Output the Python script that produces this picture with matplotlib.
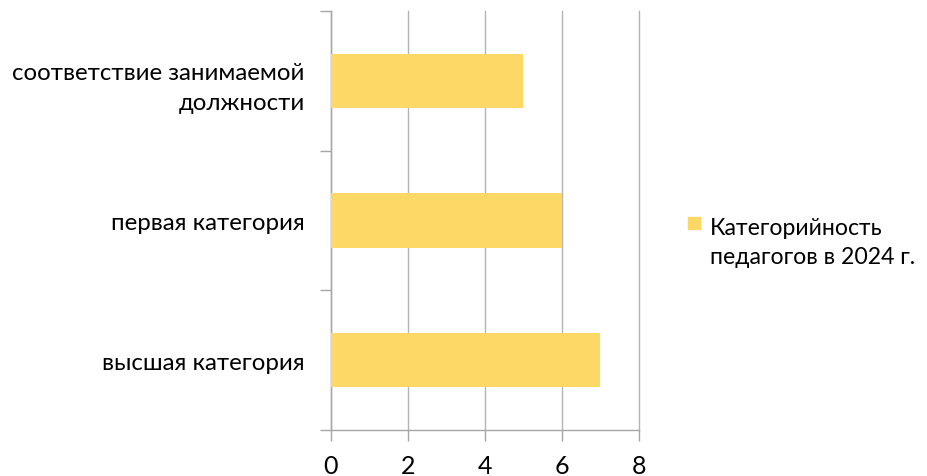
import matplotlib.pyplot as plt
from matplotlib.patches import Rectangle

plt.rcParams['font.family'] = ['Lato', 'DejaVu Sans']

categories = ["высшая категория", "первая категория", "соответствие занимаемой\nдолжности"]
values = [7, 6, 5]
series_name = "Категорийность\nпедагогов в 2024 г."
bar_color = "#FDD866"

W, H = 928, 477
fig = plt.figure(figsize=(W / 100, H / 100), dpi=100)
ax = fig.add_axes([331 / W, 1 - 431 / H, (639 - 331) / W, (431 - 12) / H])

pos = range(len(categories))
ax.barh(pos, values, height=0.39, color=bar_color, zorder=3)

ax.set_xlim(0, 8)
ax.set_ylim(-0.5, 2.5)
ax.set_xticks([0, 2, 4, 6, 8])
ax.set_yticks([-0.5, 0.5, 1.5, 2.5])
ax.set_yticklabels([])
ax.set_yticks(list(pos), minor=True)
ax.set_yticklabels(categories, minor=True, fontsize=17.3, ha='right',
                   multialignment='right', linespacing=1.55)
ax.tick_params(axis='y', which='minor', length=0, pad=19)
ax.tick_params(axis='y', which='major', length=8, color='#a6a6a6', width=1)
ax.tick_params(axis='x', length=8, color='#a6a6a6', width=1, labelsize=18, pad=9)

ax.grid(axis='x', color='#b3b3b3', linewidth=1, zorder=0)
for line in ax.get_xgridlines():
    line.set_clip_on(False)
for s in ['top', 'right']:
    ax.spines[s].set_visible(False)
for s in ['left', 'bottom']:
    ax.spines[s].set_color('#a6a6a6')
    ax.spines[s].set_linewidth(1)

# legend drawn by hand: square sits next to the first line
fig.patches.append(Rectangle((688 / W, 1 - 230 / H), 12 / W, 12 / H,
                             color=bar_color, transform=fig.transFigure))
fig.text(710 / W, 1 - 243 / H, series_name, fontsize=16.6, ha='left', va='center',
         linespacing=1.45)

fig.savefig("out.png", dpi=100)
